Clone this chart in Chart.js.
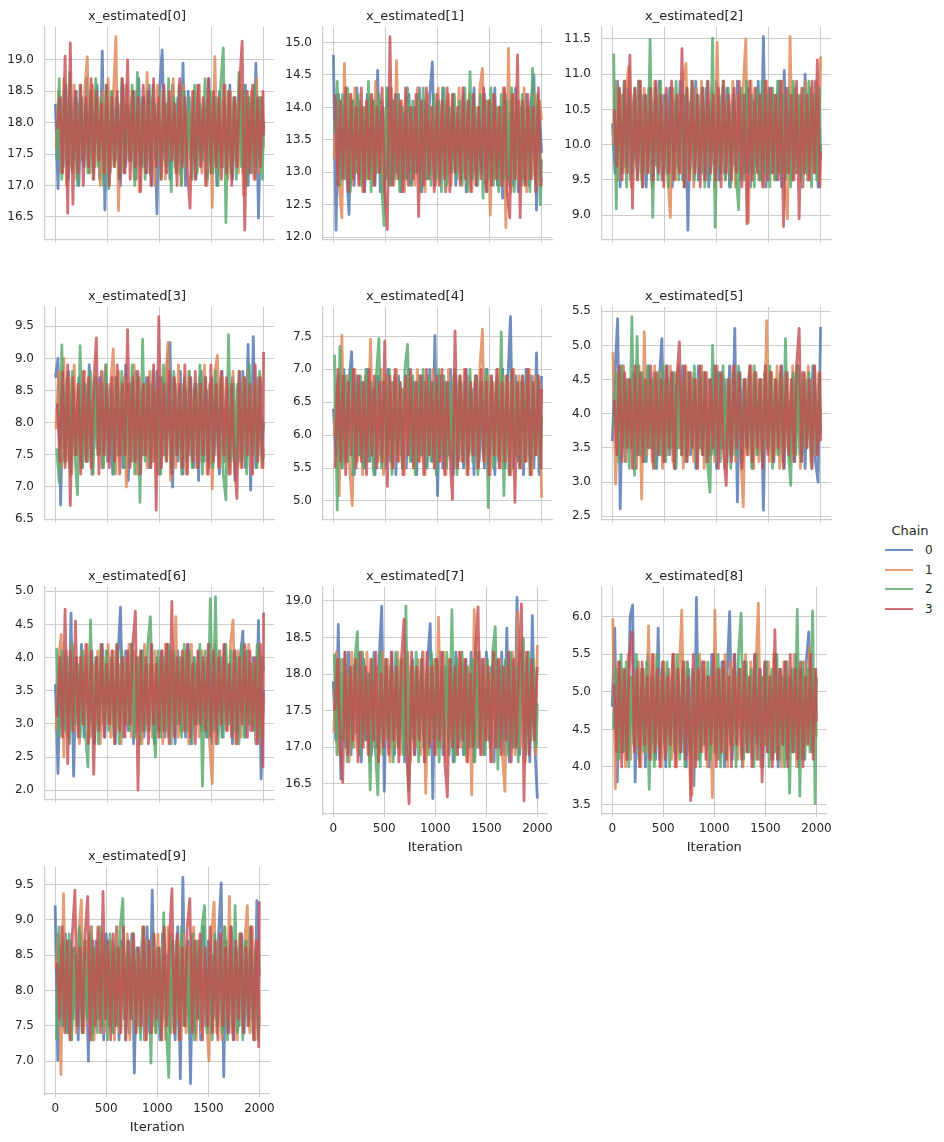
<!DOCTYPE html>
<html>
<head>
<meta charset="utf-8">
<script src="https://cdn.jsdelivr.net/npm/chart.js@4.4.1/dist/chart.umd.min.js"></script>
<style>
  body { margin: 0; background: #fff; width: 944px; height: 1142px; position: relative; overflow: hidden;
         font-family: 'DejaVu Sans', sans-serif; color: #262626; }
  canvas { position: absolute; }
  .leg-title { position: absolute; left: 880px; top: 523px; width: 60px; text-align: center; font-size: 13px; line-height: 16px; }
  .leg-line { position: absolute; left: 885px; width: 28px; height: 2px; }
  .leg-label { position: absolute; left: 925px; font-size: 12px; line-height: 16px; }
</style>
</head>
<body>
<script>
// sample positions (iteration) shared by every chain
const iterations = [
  0, 25, 50, 75, 100, 125, 150, 175, 200, 225,
  250, 275, 300, 325, 350, 375, 400, 425, 450, 475,
  500, 525, 550, 575, 600, 625, 650, 675, 700, 725,
  750, 775, 800, 825, 850, 875, 900, 925, 950, 975,
  1000, 1025, 1050, 1075, 1100, 1125, 1150, 1175, 1200, 1225,
  1250, 1275, 1300, 1325, 1350, 1375, 1400, 1425, 1450, 1475,
  1500, 1525, 1550, 1575, 1600, 1625, 1650, 1675, 1700, 1725,
  1750, 1775, 1800, 1825, 1850, 1875, 1900, 1925, 1950, 1975,
  1999];
// each chain was read a few iterations apart from the others
const chainOffsets = [0, 6, 12, 18];
const xTicks = [0, 500, 1000, 1500, 2000];
const chainLabels = ['0', '1', '2', '3'];
const panelTitles = ['x_estimated[0]', 'x_estimated[1]', 'x_estimated[2]', 'x_estimated[3]', 'x_estimated[4]',
  'x_estimated[5]', 'x_estimated[6]', 'x_estimated[7]', 'x_estimated[8]', 'x_estimated[9]'];
const yTicks = [
  [16.5, 17, 17.5, 18, 18.5, 19],
  [12, 12.5, 13, 13.5, 14, 14.5, 15],
  [9, 9.5, 10, 10.5, 11, 11.5],
  [6.5, 7, 7.5, 8, 8.5, 9, 9.5],
  [5, 5.5, 6, 6.5, 7, 7.5],
  [2.5, 3, 3.5, 4, 4.5, 5, 5.5],
  [2, 2.5, 3, 3.5, 4, 4.5, 5],
  [16.5, 17, 17.5, 18, 18.5, 19],
  [3.5, 4, 4.5, 5, 5.5, 6],
  [7, 7.5, 8, 8.5, 9, 9.5]
];

// one array per chain (0..3)
const trace0 = [
  [18.3, 16.95, 18.4, 17.3, 18.6, 17.1, 18.2, 17.4, 18.5, 17.0,
   18.4, 17.3, 18.7, 17.2, 18.3, 17.5, 18.6, 17.1, 19.14, 16.61,
   18.4, 17.2, 18.5, 17.4, 18.3, 17.0, 18.6, 17.3, 18.2, 17.4,
   18.5, 17.1, 18.7, 17.3, 18.4, 17.2, 18.6, 17.0, 18.3, 16.55,
   18.5, 19.16, 17.4, 18.3, 17.1, 18.6, 17.3, 18.4, 17.2, 18.95,
   17.0, 18.5, 17.4, 18.3, 17.1, 18.6, 17.3, 18.2, 17.5, 18.7,
   17.2, 18.4, 17.0, 18.5, 17.3, 18.3, 17.4, 18.6, 17.1, 18.4,
   17.3, 18.5, 17.2, 18.6, 17.0, 18.3, 17.4, 18.95, 16.48, 18.4,
   17.9],
  [17.6, 18.5, 17.2, 18.7, 17.0, 18.4, 17.3, 18.6, 17.1, 18.3,
   17.4, 18.5, 19.05, 17.2, 18.6, 17.3, 18.4, 17.0, 18.5, 17.2,
   18.7, 17.3, 18.4, 19.37, 16.6, 18.3, 17.2, 18.6, 17.4, 18.4,
   17.1, 18.5, 16.9, 18.3, 17.3, 18.8, 17.2, 18.4, 17.0, 18.6,
   17.3, 18.5, 17.1, 18.3, 17.4, 18.7, 17.2, 18.4, 17.0, 18.6,
   17.3, 18.2, 17.1, 18.5, 17.4, 18.6, 17.2, 18.3, 17.0, 18.5,
   16.65, 19.05, 17.2, 18.4, 17.3, 18.6, 17.1, 18.5, 17.4, 18.3,
   17.2, 18.6, 16.85, 18.4, 17.3, 18.5, 17.1, 18.7, 17.2, 18.4,
   17.6],
  [17.4, 18.7, 17.1, 18.5, 17.3, 18.8, 17.2, 18.4, 17.0, 18.6,
   17.4, 18.3, 17.2, 18.5, 17.1, 18.7, 17.3, 18.4, 17.0, 18.6,
   16.95, 18.5, 17.3, 18.4, 17.1, 18.7, 17.2, 18.3, 17.4, 18.6,
   17.0, 18.8, 17.3, 18.4, 17.1, 18.5, 17.2, 18.6, 17.4, 18.3,
   17.1, 18.5, 17.3, 18.7, 16.9, 18.4, 17.2, 18.6, 17.0, 18.5,
   17.3, 18.4, 17.1, 18.6, 17.2, 18.3, 17.4, 18.7, 17.1, 18.5,
   17.2, 18.4, 17.0, 18.6, 19.19, 16.41, 18.5, 17.2, 18.4, 17.1,
   18.8, 17.3, 18.5, 17.0, 18.4, 17.2, 18.6, 17.3, 18.4, 17.1,
   18.0],
  [17.9, 18.4, 17.2, 19.06, 16.56, 19.27, 16.7, 18.5, 17.2, 18.6,
   17.0, 18.4, 17.3, 18.7, 17.1, 18.5, 17.4, 18.3, 17.2, 18.6,
   17.0, 18.4, 17.3, 18.5, 17.1, 18.7, 17.2, 19.0, 17.1, 18.5,
   17.3, 18.4, 16.9, 18.6, 17.2, 18.5, 17.0, 18.7, 17.3, 18.4,
   17.1, 18.6, 17.2, 18.5, 17.4, 18.3, 17.0, 18.7, 17.3, 18.4,
   17.2, 16.64, 18.5, 17.1, 18.6, 17.3, 18.4, 17.0, 18.7, 17.2,
   18.5, 17.3, 18.4, 17.1, 18.6, 17.2, 18.5, 17.0, 18.4, 17.3,
   18.6, 19.30, 16.29, 18.5, 17.2, 18.6, 17.1, 18.4, 17.3, 18.5,
   17.8]
];
const trace1 = [
  [14.81, 12.11, 14.2, 12.9, 14.0, 13.1, 12.35, 14.1, 12.8, 14.3,
   12.9, 14.0, 12.7, 14.2, 13.0, 14.1, 12.8, 14.57, 12.7, 14.0,
   12.9, 14.3, 12.8, 14.1, 13.0, 14.2, 12.7, 13.9, 12.9, 14.2,
   12.8, 14.0, 13.0, 14.3, 12.7, 14.1, 12.9, 14.2, 14.7, 12.8,
   14.0, 12.9, 14.3, 12.7, 14.1, 13.0, 14.2, 12.8, 13.9, 12.9,
   14.2, 12.7, 14.1, 12.9, 14.3, 12.8, 14.0, 13.0, 14.2, 12.7,
   14.1, 12.9, 14.3, 12.8, 14.0, 12.6, 14.2, 12.9, 14.1, 12.8,
   14.3, 12.7, 14.0, 12.9, 14.2, 12.8, 14.1, 14.5, 12.42, 14.0,
   13.3],
  [13.2, 14.1, 12.8, 12.3, 14.68, 12.9, 14.2, 12.8, 14.3, 13.0,
   14.1, 12.7, 14.0, 12.9, 14.2, 12.8, 14.4, 13.0, 14.1, 12.7,
   14.0, 12.9, 14.3, 12.8, 14.72, 12.9, 14.1, 12.7, 14.2, 13.0,
   14.0, 12.8, 14.3, 12.9, 14.1, 12.7, 14.2, 13.0, 14.0, 12.8,
   14.3, 12.9, 14.1, 12.7, 14.2, 12.8, 14.0, 13.0, 14.3, 12.9,
   14.1, 12.8, 14.2, 12.7, 14.0, 12.9, 14.3, 14.6, 12.8, 14.1,
   12.34, 14.2, 12.9, 14.0, 12.8, 14.3, 12.15, 14.91, 12.7, 14.2,
   12.9, 14.1, 12.8, 14.3, 12.7, 14.0, 12.9, 14.2, 12.8, 14.1,
   13.8],
  [13.6, 14.4, 12.8, 14.2, 12.9, 14.3, 12.7, 14.1, 13.0, 14.2,
   12.8, 14.0, 12.9, 14.4, 12.7, 14.1, 13.0, 14.2, 12.8, 12.18,
   14.3, 12.8, 14.1, 12.9, 14.2, 12.7, 14.0, 12.9, 14.3, 12.8,
   14.1, 13.0, 14.2, 12.7, 14.3, 12.9, 14.0, 12.8, 14.2, 12.9,
   14.1, 12.7, 14.3, 12.8, 14.0, 13.0, 14.2, 12.9, 14.1, 12.8,
   14.3, 12.7, 14.55, 12.9, 14.0, 12.8, 14.2, 12.6, 14.1, 12.9,
   14.3, 12.8, 14.0, 12.7, 14.2, 12.9, 14.1, 12.8, 14.3, 12.7,
   14.0, 12.9, 14.2, 12.8, 14.1, 12.7, 14.6, 12.9, 14.2, 12.5,
   13.2],
  [14.2, 12.8, 14.1, 12.9, 14.3, 12.7, 14.2, 12.9, 14.0, 12.8,
   14.3, 12.7, 14.1, 12.9, 14.2, 12.8, 14.0, 13.0, 14.3, 12.7,
   12.12, 15.09, 12.8, 14.2, 12.9, 14.1, 12.7, 14.3, 12.8, 14.0,
   12.9, 14.2, 12.32, 14.1, 12.8, 14.3, 12.9, 14.0, 12.7, 14.2,
   12.8, 14.1, 12.9, 14.3, 12.7, 14.2, 13.0, 14.0, 12.8, 14.3,
   12.9, 14.1, 12.7, 14.2, 12.8, 14.0, 12.9, 14.3, 12.7, 14.1,
   12.8, 14.2, 12.9, 14.0, 12.8, 14.3, 12.7, 12.3, 14.2, 12.9,
   14.81, 12.3, 14.1, 12.8, 14.2, 12.9, 14.0, 12.7, 14.3, 12.8,
   12.9]
];
const trace2 = [
  [10.3, 9.6, 10.9, 9.4, 10.7, 9.7, 10.8, 9.5, 10.6, 9.8,
   10.9, 9.6, 10.7, 9.4, 10.8, 9.5, 10.6, 9.7, 10.9, 9.5,
   10.7, 9.6, 10.8, 9.4, 10.6, 9.7, 10.9, 9.5, 10.7, 8.79,
   10.6, 9.7, 10.9, 9.5, 10.7, 9.6, 10.8, 9.4, 10.6, 9.7,
   10.9, 9.5, 10.7, 9.6, 10.8, 9.4, 10.6, 9.7, 10.9, 9.5,
   10.7, 9.6, 10.8, 9.4, 10.6, 9.7, 10.9, 9.5, 11.53, 9.4,
   10.8, 9.6, 10.7, 9.5, 10.9, 9.4, 11.05, 9.6, 10.7, 9.5,
   10.8, 9.6, 10.6, 9.4, 11.0, 9.5, 10.8, 9.7, 10.9, 9.4,
   10.0],
  [10.0, 10.9, 9.5, 10.7, 9.6, 10.8, 11.1, 9.4, 10.7, 9.7,
   10.9, 9.5, 10.8, 9.6, 10.7, 9.4, 10.9, 9.7, 10.8, 9.5,
   10.6, 9.6, 8.97, 10.8, 9.5, 10.7, 9.6, 10.9, 11.15, 9.5,
   10.7, 9.4, 10.8, 9.6, 10.9, 9.5, 10.7, 9.7, 10.8, 9.4,
   11.45, 9.7, 10.8, 9.5, 10.6, 9.6, 10.9, 9.4, 10.7, 9.6,
   10.8, 11.5, 8.9, 10.9, 9.6, 10.8, 9.5, 10.7, 9.4, 10.9,
   9.6, 10.8, 9.5, 10.7, 9.6, 10.9, 9.4, 8.95, 11.53, 9.5,
   10.8, 9.6, 10.7, 9.4, 10.9, 9.5, 10.8, 9.6, 10.9, 9.5,
   11.25],
  [11.29, 9.09, 10.8, 9.6, 10.9, 9.4, 10.7, 9.6, 10.8, 9.5,
   10.9, 9.4, 10.7, 9.6, 11.49, 8.97, 10.8, 9.5, 10.9, 9.6,
   10.7, 9.4, 10.8, 9.6, 10.9, 9.5, 10.7, 9.4, 10.8, 9.6,
   10.9, 9.5, 10.7, 9.6, 10.8, 9.4, 10.9, 9.5, 11.51, 8.83,
   10.7, 9.6, 10.9, 9.5, 10.8, 9.4, 10.7, 9.6, 9.08, 10.8,
   9.5, 10.9, 9.6, 10.7, 9.4, 10.8, 9.5, 10.9, 9.6, 10.7,
   9.4, 10.8, 9.5, 10.9, 9.6, 10.7, 9.5, 10.8, 9.4, 10.9,
   9.6, 10.7, 9.5, 10.8, 9.6, 10.9, 9.4, 10.7, 9.5, 10.8,
   9.8],
  [10.5, 9.7, 10.8, 9.5, 10.9, 9.6, 11.27, 9.1, 10.8, 9.5,
   10.9, 9.4, 10.7, 9.6, 10.8, 9.5, 10.9, 9.6, 10.7, 9.4,
   10.8, 9.6, 10.9, 9.5, 10.7, 9.6, 11.36, 9.4, 10.8, 9.5,
   10.9, 9.6, 10.7, 9.4, 10.8, 9.5, 10.9, 9.6, 10.7, 9.5,
   10.8, 9.4, 10.9, 9.6, 10.7, 9.5, 10.8, 9.6, 10.9, 9.4,
   10.7, 8.88, 10.9, 9.5, 10.8, 9.6, 10.7, 9.4, 10.9, 9.5,
   10.8, 9.6, 10.7, 9.5, 10.9, 8.84, 10.8, 9.6, 10.7, 9.5,
   10.9, 8.95, 10.8, 9.6, 10.7, 9.5, 10.9, 9.6, 11.2, 9.4,
   9.9]
];
const trace3 = [
  [8.7, 9.0, 6.72, 8.6, 7.4, 8.8, 7.2, 8.5, 7.5, 8.7,
   7.3, 8.6, 7.4, 8.9, 7.2, 8.5, 7.6, 8.7, 7.3, 8.8,
   7.4, 8.6, 7.2, 8.7, 7.5, 8.5, 7.3, 8.9, 7.1, 8.6,
   7.4, 8.8, 7.2, 8.5, 7.5, 8.7, 7.3, 8.6, 7.4, 8.8,
   7.2, 8.7, 7.5, 8.9, 9.25, 7.0, 8.6, 7.4, 8.8, 7.2,
   8.5, 7.5, 8.7, 7.3, 8.6, 7.1, 8.8, 7.4, 8.5, 7.3,
   8.7, 7.5, 8.6, 7.2, 8.8, 7.4, 8.5, 7.3, 8.7, 7.1,
   8.6, 7.4, 8.8, 7.3, 9.22, 6.95, 9.34, 7.3, 8.7, 7.5,
   8.0],
  [7.9, 8.8, 7.3, 9.0, 7.4, 8.7, 7.2, 8.9, 7.5, 8.6,
   7.3, 8.8, 7.4, 8.5, 7.2, 8.7, 7.5, 8.6, 7.3, 8.9,
   7.4, 8.6, 9.15, 7.2, 8.8, 7.5, 8.7, 7.0, 8.6, 7.4,
   8.9, 7.2, 8.7, 7.5, 8.6, 7.3, 8.8, 7.4, 8.5, 7.2,
   8.7, 7.5, 8.6, 9.25, 7.1, 8.7, 7.3, 8.9, 7.4, 8.6,
   7.2, 8.8, 7.5, 8.5, 7.3, 8.7, 7.4, 8.9, 7.2, 8.6,
   6.97, 8.8, 9.05, 7.3, 8.7, 7.4, 8.6, 7.2, 8.8, 7.5,
   8.6, 7.3, 8.7, 7.4, 8.8, 7.2, 8.6, 7.5, 8.7, 7.3,
   7.6],
  [7.6, 7.07, 9.21, 7.4, 8.7, 7.3, 8.8, 7.5, 6.88, 9.2,
   7.3, 8.6, 7.4, 8.8, 7.2, 8.7, 7.5, 8.6, 7.3, 8.9,
   7.4, 8.5, 7.2, 8.7, 7.5, 8.8, 7.3, 8.6, 7.4, 8.9,
   7.2, 8.7, 6.76, 9.3, 7.4, 8.6, 7.3, 8.8, 7.5, 8.7,
   7.2, 8.9, 7.4, 8.6, 7.3, 8.8, 7.5, 8.5, 7.2, 8.7,
   7.4, 8.8, 7.3, 8.6, 7.5, 8.9, 7.2, 8.7, 7.4, 8.6,
   7.3, 8.8, 7.5, 8.7, 7.2, 6.80, 9.37, 7.4, 8.6, 7.3,
   8.8, 7.4, 8.7, 7.2, 8.9, 7.5, 8.6, 7.3, 8.8, 7.4,
   7.5],
  [8.3, 7.4, 8.8, 7.3, 8.9, 6.71, 8.7, 7.5, 8.6, 7.2,
   8.8, 7.4, 8.7, 7.3, 8.6, 9.32, 7.2, 8.8, 7.5, 8.6,
   7.3, 8.7, 7.4, 8.9, 7.2, 8.6, 7.5, 9.45, 7.3, 8.7,
   7.4, 8.8, 7.2, 8.6, 7.5, 8.7, 7.3, 8.9, 6.64, 9.65,
   7.3, 8.6, 7.4, 8.8, 7.2, 8.7, 7.5, 8.6, 7.3, 8.9,
   7.2, 8.7, 7.4, 8.8, 7.3, 8.6, 7.5, 8.7, 7.2, 8.9,
   7.4, 8.6, 7.3, 8.8, 7.5, 8.7, 7.2, 8.6, 7.4, 6.82,
   8.8, 7.3, 8.7, 7.5, 8.6, 7.2, 8.9, 7.4, 8.7, 7.3,
   9.1]
];
const trace4 = [
  [6.4, 5.7, 6.9, 5.5, 7.0, 5.6, 6.8, 7.27, 5.4, 6.9,
   5.7, 6.8, 5.5, 7.0, 5.6, 6.7, 5.4, 6.9, 5.7, 6.8,
   5.5, 7.0, 5.6, 6.8, 5.4, 6.9, 5.7, 6.7, 5.5, 7.0,
   5.6, 6.8, 5.4, 6.9, 5.7, 6.8, 5.5, 7.0, 5.6, 7.51,
   5.08, 6.9, 5.5, 6.8, 5.7, 7.0, 5.4, 6.9, 5.6, 6.8,
   5.5, 7.0, 5.7, 6.7, 5.4, 6.9, 5.6, 6.8, 5.5, 7.0,
   5.7, 6.8, 5.4, 6.9, 5.6, 7.0, 5.5, 6.8, 7.80, 5.5,
   6.9, 5.6, 6.8, 5.4, 7.0, 5.7, 6.9, 5.5, 7.25, 5.4,
   6.9],
  [6.0, 6.8, 5.08, 7.52, 5.6, 6.9, 5.5, 4.93, 7.0, 5.6,
   6.8, 5.4, 6.9, 5.7, 7.46, 5.5, 6.8, 5.6, 7.0, 5.4,
   6.9, 5.7, 6.8, 5.5, 7.0, 5.6, 6.7, 5.4, 6.9, 5.7,
   6.8, 5.5, 7.0, 5.6, 6.9, 5.4, 6.8, 5.7, 7.0, 5.5,
   6.9, 5.6, 6.8, 5.4, 7.0, 5.7, 6.9, 5.5, 6.8, 5.6,
   7.0, 5.4, 6.9, 5.7, 6.8, 5.5, 7.0, 7.61, 5.6, 6.9,
   5.4, 6.8, 5.7, 7.0, 5.5, 6.9, 5.6, 6.8, 5.4, 7.0,
   5.7, 6.9, 5.5, 6.8, 5.6, 7.0, 5.4, 6.9, 5.7, 6.8,
   5.05],
  [7.22, 4.86, 7.35, 5.5, 6.9, 5.6, 7.0, 5.4, 6.8, 5.7,
   6.9, 5.5, 7.0, 5.6, 6.8, 5.4, 6.9, 7.47, 5.5, 6.8,
   5.6, 7.0, 5.4, 6.9, 5.7, 6.8, 5.5, 7.0, 7.38, 5.6,
   6.9, 5.4, 6.8, 5.7, 7.0, 5.5, 6.9, 5.6, 6.8, 5.4,
   7.0, 5.7, 6.9, 5.5, 6.8, 5.6, 7.0, 5.4, 6.9, 5.7,
   6.8, 5.5, 7.0, 5.6, 6.9, 5.4, 6.8, 5.7, 7.0, 4.9,
   6.9, 5.5, 6.8, 5.6, 7.57, 5.08, 6.9, 5.4, 7.0, 5.7,
   6.8, 5.5, 6.9, 5.6, 7.0, 5.4, 6.8, 5.7, 6.9, 5.5,
   6.3],
  [5.5, 7.0, 5.6, 6.9, 5.4, 6.8, 5.7, 7.0, 5.5, 6.9,
   5.6, 6.8, 5.4, 7.0, 5.7, 6.9, 5.5, 6.8, 5.6, 7.43,
   5.22, 6.9, 5.5, 7.0, 5.6, 6.8, 5.4, 6.9, 5.7, 7.0,
   5.5, 6.8, 5.6, 6.9, 5.4, 7.0, 5.7, 6.8, 5.5, 6.9,
   5.6, 7.0, 5.4, 6.8, 5.7, 5.02, 7.58, 5.5, 6.9, 5.6,
   7.0, 5.4, 6.8, 5.7, 6.9, 5.5, 7.0, 5.6, 6.8, 5.4,
   6.9, 5.7, 7.0, 5.5, 6.8, 5.6, 6.9, 5.4, 7.0, 4.98,
   6.8, 5.5, 6.9, 5.6, 7.0, 5.4, 6.8, 5.7, 6.9, 5.5,
   6.7]
];
const trace5 = [
  [3.6, 4.6, 5.39, 2.61, 4.7, 3.3, 4.5, 3.5, 4.6, 3.2,
   4.7, 3.4, 4.5, 3.3, 4.7, 3.5, 4.6, 3.2, 4.5, 5.1,
   3.3, 4.7, 3.4, 4.6, 3.2, 4.5, 3.5, 4.7, 3.3, 4.6,
   3.4, 4.5, 3.2, 4.7, 3.5, 4.6, 3.3, 4.5, 3.4, 4.7,
   3.2, 4.6, 3.5, 4.5, 3.3, 4.7, 3.4, 5.25, 2.71, 4.6,
   3.3, 4.5, 3.5, 4.7, 3.2, 4.6, 3.4, 4.5, 2.59, 4.7,
   3.5, 4.6, 3.3, 4.5, 3.4, 4.7, 3.2, 4.6, 3.5, 4.5,
   3.3, 4.7, 3.4, 4.6, 3.2, 4.5, 3.5, 4.7, 3.3, 3.0,
   5.27],
  [4.9, 2.97, 4.6, 3.4, 4.7, 3.3, 4.5, 3.5, 4.6, 3.2,
   4.7, 2.75, 5.2, 3.4, 4.5, 3.3, 4.7, 3.5, 4.6, 3.2,
   4.5, 3.4, 4.7, 3.3, 4.6, 3.5, 4.5, 3.2, 4.7, 3.4,
   4.6, 3.3, 4.5, 3.5, 4.7, 3.2, 4.6, 3.4, 4.5, 3.3,
   4.7, 3.5, 4.6, 3.2, 4.5, 3.4, 4.7, 3.3, 4.6, 3.5,
   2.64, 4.5, 3.4, 4.7, 3.2, 4.6, 3.3, 4.5, 3.5, 5.36,
   3.3, 4.6, 3.4, 4.7, 3.2, 4.5, 3.5, 4.6, 3.3, 4.7,
   3.4, 4.5, 3.2, 4.6, 3.5, 4.7, 3.3, 4.5, 3.4, 4.6,
   3.9],
  [3.8, 4.6, 3.3, 4.7, 3.5, 4.5, 3.2, 5.42, 3.1, 5.13,
   3.4, 4.6, 3.3, 4.7, 3.5, 4.5, 3.2, 4.6, 3.4, 4.7,
   3.3, 4.5, 3.5, 4.6, 3.2, 4.7, 3.4, 4.5, 3.3, 4.6,
   3.5, 4.7, 3.2, 4.5, 3.4, 4.6, 3.3, 2.85, 5.0, 3.4,
   4.6, 3.3, 4.7, 3.5, 4.5, 3.2, 4.6, 3.4, 4.7, 3.3,
   4.5, 3.5, 4.6, 3.2, 4.7, 3.4, 4.5, 3.3, 4.6, 3.5,
   4.7, 3.2, 4.5, 3.4, 4.6, 3.3, 5.1, 3.5, 2.95, 4.6,
   3.4, 4.7, 3.3, 4.5, 3.5, 4.6, 3.2, 4.7, 3.4, 4.5,
   3.7],
  [4.2, 3.4, 4.7, 3.3, 4.6, 3.5, 4.5, 3.2, 4.7, 3.4,
   4.6, 3.3, 4.5, 3.5, 4.7, 3.2, 4.6, 3.4, 4.5, 3.3,
   4.7, 3.5, 4.6, 3.2, 4.5, 5.05, 3.4, 4.7, 3.3, 4.6,
   3.5, 4.5, 3.2, 4.7, 3.4, 4.6, 3.3, 4.5, 3.5, 4.7,
   3.2, 4.6, 3.4, 2.95, 4.5, 3.3, 4.7, 3.5, 4.6, 3.2,
   4.5, 3.4, 4.7, 3.3, 4.6, 3.5, 4.5, 3.2, 4.7, 3.4,
   4.6, 3.3, 4.5, 3.5, 4.7, 3.2, 4.6, 3.4, 4.5, 3.3,
   4.7, 5.25, 3.3, 4.6, 3.5, 4.5, 3.2, 4.7, 3.4, 4.6,
   3.6]
];
const trace6 = [
  [3.6, 2.25, 4.0, 2.9, 4.1, 2.8, 4.67, 2.21, 4.0, 2.9,
   4.2, 2.8, 3.9, 3.0, 4.1, 2.7, 4.0, 2.9, 4.2, 2.8,
   4.1, 3.0, 3.9, 2.7, 4.0, 4.76, 2.8, 4.1, 2.9, 4.2,
   2.7, 4.0, 3.0, 4.1, 2.8, 3.9, 2.9, 4.2, 2.7, 4.0,
   2.9, 4.1, 2.8, 4.2, 3.0, 3.9, 2.7, 4.1, 2.9, 4.0,
   2.8, 4.2, 2.7, 4.0, 3.0, 4.1, 2.9, 3.9, 2.8, 4.2,
   2.7, 4.0, 2.9, 4.1, 2.8, 4.2, 3.0, 3.9, 2.7, 4.1,
   2.9, 4.0, 4.4, 2.8, 4.1, 2.9, 4.0, 2.7, 4.56, 2.17,
   3.5],
  [2.9, 4.0, 4.35, 2.5, 4.1, 2.8, 4.2, 2.9, 4.0, 2.7,
   4.1, 3.0, 4.2, 2.8, 3.9, 2.9, 4.1, 2.7, 4.0, 3.0,
   4.2, 2.8, 4.1, 2.9, 3.9, 2.7, 4.0, 3.0, 4.2, 2.8,
   4.1, 2.9, 4.0, 2.7, 4.2, 3.0, 3.9, 2.8, 4.1, 2.9,
   4.0, 2.7, 4.2, 2.8, 4.1, 3.0, 4.62, 2.8, 4.0, 2.9,
   4.1, 2.7, 4.2, 3.0, 3.9, 2.8, 4.1, 2.9, 4.0, 2.7,
   2.1, 4.2, 2.8, 4.1, 3.0, 4.0, 2.9, 4.2, 4.57, 2.7,
   4.1, 2.8, 4.0, 3.0, 4.2, 2.9, 3.9, 2.7, 4.1, 2.8,
   3.4],
  [4.15, 2.8, 4.1, 2.9, 4.0, 2.7, 4.2, 3.0, 3.9, 2.8,
   4.1, 2.9, 2.35, 4.57, 2.8, 4.0, 2.7, 4.2, 3.0, 4.1,
   2.9, 4.0, 2.8, 4.2, 2.7, 4.1, 3.0, 3.9, 2.9, 4.2,
   2.8, 4.0, 2.7, 4.1, 2.9, 4.2, 4.62, 3.0, 2.5, 4.1,
   2.8, 4.0, 2.9, 4.2, 2.7, 4.1, 3.0, 4.0, 2.8, 4.2,
   2.9, 4.1, 2.7, 4.0, 3.0, 4.2, 2.06, 4.1, 2.8, 4.89,
   2.9, 4.92, 2.7, 4.0, 2.8, 4.2, 3.0, 4.1, 2.9, 4.0,
   2.7, 4.2, 2.8, 4.1, 3.0, 3.9, 2.9, 4.2, 2.8, 4.0,
   3.8],
  [3.1, 4.0, 2.8, 4.73, 2.4, 4.1, 2.9, 4.55, 2.8, 4.0,
   3.0, 4.2, 2.7, 4.1, 2.24, 4.0, 2.9, 4.2, 2.8, 3.9,
   3.0, 4.1, 2.7, 4.2, 2.9, 4.0, 2.8, 4.1, 3.0, 4.2,
   4.7, 2.0, 4.1, 2.9, 4.0, 2.7, 4.2, 3.0, 3.9, 2.8,
   4.1, 2.9, 4.2, 2.7, 4.85, 2.8, 4.0, 3.0, 4.1, 2.9,
   4.2, 2.8, 3.9, 2.7, 4.1, 3.0, 4.0, 2.9, 4.2, 2.8,
   4.1, 2.7, 4.0, 3.0, 4.2, 2.9, 3.9, 2.8, 4.1, 2.7,
   4.0, 3.0, 4.2, 2.8, 4.1, 2.9, 4.0, 2.7, 4.2, 2.35,
   4.68]
];
const trace7 = [
  [17.9, 17.1, 18.68, 16.57, 18.2, 17.0, 18.3, 16.9, 18.1, 17.2,
   18.3, 16.8, 18.2, 17.1, 18.0, 16.9, 18.3, 17.0, 18.2, 18.93,
   16.4, 18.1, 17.0, 18.3, 16.9, 18.2, 17.1, 18.0, 16.8, 18.3,
   17.0, 18.2, 16.9, 18.1, 17.2, 18.3, 16.8, 18.2, 18.69, 16.3,
   18.2, 17.0, 18.3, 16.9, 18.1, 17.1, 18.2, 16.8, 18.3, 17.0,
   18.1, 16.9, 18.2, 17.2, 18.3, 16.8, 18.0, 17.0, 18.2, 16.9,
   18.3, 17.1, 18.1, 16.8, 18.2, 17.0, 18.3, 16.9, 18.63, 16.8,
   18.2, 17.0, 19.05, 16.9, 18.3, 17.1, 18.2, 16.8, 18.8, 17.0,
   16.3],
  [17.2, 18.3, 16.9, 18.2, 17.1, 18.0, 16.8, 18.3, 17.0, 18.2,
   16.9, 18.1, 17.2, 18.3, 16.8, 18.2, 17.0, 18.1, 16.9, 18.3,
   17.1, 18.2, 16.8, 18.0, 17.0, 18.3, 16.9, 18.2, 17.1, 18.3,
   16.8, 18.1, 17.0, 18.2, 16.9, 18.3, 16.37, 18.1, 17.1, 18.2,
   16.9, 18.78, 17.0, 18.3, 16.8, 18.2, 17.1, 18.0, 16.9, 18.3,
   17.0, 18.2, 16.8, 18.1, 16.35, 18.88, 17.0, 18.3, 16.9, 18.2,
   17.1, 18.0, 16.8, 18.3, 17.0, 18.2, 16.9, 16.4, 18.1, 17.1,
   18.3, 16.9, 18.85, 17.0, 18.2, 16.8, 18.3, 17.1, 18.1, 16.9,
   18.4],
  [18.28, 16.9, 18.2, 17.1, 18.3, 16.8, 18.1, 17.0, 18.2, 18.58,
   16.9, 18.3, 17.1, 18.0, 16.42, 18.2, 17.0, 16.35, 18.3, 16.9,
   18.2, 17.1, 18.1, 16.8, 18.3, 17.0, 18.2, 16.9, 18.93, 16.42,
   18.1, 17.1, 18.3, 16.8, 18.2, 17.0, 18.0, 16.9, 18.3, 17.1,
   18.2, 16.8, 18.1, 17.0, 18.3, 16.9, 18.88, 16.8, 18.2, 17.1,
   18.3, 16.9, 18.1, 17.0, 18.2, 16.8, 18.3, 17.1, 18.0, 16.9,
   18.2, 17.0, 18.3, 18.65, 16.7, 18.1, 17.1, 18.2, 16.9, 18.3,
   17.0, 18.1, 16.8, 18.2, 18.49, 16.9, 18.3, 17.1, 18.2, 17.0,
   17.6],
  [17.5, 18.2, 17.0, 16.52, 18.3, 16.9, 18.1, 17.1, 18.2, 16.8,
   18.3, 17.0, 18.1, 16.9, 18.2, 17.1, 18.3, 16.8, 18.0, 17.0,
   18.2, 16.9, 18.3, 17.1, 18.1, 16.8, 18.2, 18.75, 17.0, 16.23,
   18.3, 16.9, 18.1, 17.1, 18.2, 16.8, 18.3, 17.0, 18.1, 16.9,
   18.2, 17.1, 18.3, 16.8, 16.32, 18.2, 17.0, 18.1, 16.9, 18.3,
   17.1, 18.2, 16.8, 18.0, 17.0, 18.3, 18.92, 16.9, 18.2, 17.1,
   18.1, 16.8, 18.3, 17.0, 18.2, 16.9, 18.1, 17.1, 18.3, 16.8,
   18.2, 17.0, 18.1, 18.96, 16.27, 18.3, 16.9, 18.2, 17.1, 18.0,
   18.1]
];
const trace8 = [
  [4.8, 5.85, 3.8, 5.4, 4.2, 5.3, 4.1, 6.0, 6.16, 3.8,
   5.4, 4.2, 5.3, 4.0, 5.5, 4.3, 5.2, 4.1, 5.85, 4.2,
   5.4, 4.0, 5.3, 4.3, 5.5, 4.1, 5.2, 4.2, 5.4, 4.0,
   5.3, 4.2, 3.75, 6.26, 4.1, 5.4, 4.3, 5.2, 4.0, 5.5,
   4.2, 5.3, 4.1, 5.4, 4.0, 5.2, 6.07, 4.1, 5.5, 4.3,
   5.3, 4.0, 5.4, 4.2, 5.2, 4.1, 5.5, 4.3, 5.3, 4.0,
   5.4, 4.2, 5.2, 4.1, 5.5, 4.0, 5.3, 4.3, 5.4, 4.1,
   5.2, 4.2, 5.5, 4.0, 5.3, 4.1, 5.4, 5.8, 4.2, 5.3,
   5.1],
  [5.98, 3.71, 5.4, 4.2, 5.3, 4.0, 5.5, 4.1, 5.2, 4.3,
   5.4, 4.0, 5.3, 4.2, 5.88, 4.1, 5.5, 4.3, 5.2, 4.0,
   5.4, 4.2, 5.3, 4.1, 5.5, 4.0, 5.2, 6.09, 4.2, 5.4,
   4.3, 3.62, 5.3, 4.1, 5.5, 4.2, 5.4, 4.0, 5.2, 3.59,
   6.09, 4.1, 5.3, 4.2, 5.5, 4.0, 5.4, 4.3, 5.2, 4.1,
   5.3, 4.0, 5.5, 4.2, 5.4, 4.1, 5.3, 6.18, 4.0, 5.2,
   4.3, 5.4, 4.1, 5.5, 4.2, 5.3, 4.0, 5.4, 4.1, 5.2,
   4.2, 5.5, 4.0, 5.3, 4.1, 5.4, 4.3, 5.6, 4.2, 5.3,
   4.4],
  [4.5, 5.3, 4.1, 5.5, 4.2, 5.4, 4.0, 5.2, 4.3, 5.5,
   4.1, 5.3, 4.2, 5.4, 3.70, 5.2, 4.0, 5.5, 4.1, 5.3,
   4.3, 5.4, 4.0, 5.2, 4.2, 5.5, 4.1, 5.3, 4.0, 5.4,
   4.2, 5.3, 4.1, 5.5, 4.0, 5.2, 4.3, 5.4, 4.1, 5.3,
   4.2, 5.5, 4.0, 5.4, 4.1, 5.2, 4.3, 5.3, 4.0, 5.5,
   6.05, 4.1, 5.4, 4.2, 5.3, 4.0, 5.5, 4.1, 5.2, 4.3,
   5.4, 4.0, 5.3, 4.2, 5.5, 4.1, 5.2, 4.0, 5.4, 3.65,
   5.3, 4.2, 6.1, 3.61, 5.4, 4.1, 5.3, 4.2, 6.08, 3.51,
   5.2],
  [5.1, 4.2, 5.4, 4.0, 5.3, 4.1, 5.5, 5.8, 4.2, 5.3,
   4.0, 5.4, 4.3, 5.2, 4.1, 5.5, 4.2, 5.3, 4.0, 5.4,
   4.1, 5.2, 4.3, 5.5, 4.0, 5.3, 4.2, 5.4, 4.1, 5.2,
   3.55, 5.5, 4.0, 5.3, 4.2, 5.4, 4.1, 5.2, 4.3, 5.5,
   4.0, 5.3, 4.2, 5.4, 4.1, 5.2, 4.0, 5.5, 4.3, 5.3,
   4.1, 5.4, 4.2, 5.2, 4.0, 5.5, 4.1, 5.3, 3.8, 5.4,
   4.2, 5.2, 4.0, 5.83, 4.1, 5.3, 4.3, 5.4, 4.0, 5.5,
   4.2, 5.3, 4.1, 5.4, 4.0, 5.2, 4.3, 5.5, 4.1, 5.3,
   4.6]
];
const trace9 = [
  [9.2, 7.01, 8.6, 7.5, 8.8, 7.4, 8.7, 7.6, 8.5, 7.3,
   8.8, 7.5, 8.6, 7.0, 8.9, 7.4, 8.7, 7.6, 8.5, 7.3,
   8.8, 7.5, 8.6, 7.4, 8.9, 7.3, 8.7, 7.6, 8.5, 7.4,
   8.8, 6.83, 8.6, 7.5, 8.7, 7.3, 8.9, 7.4, 9.42, 7.5,
   8.6, 7.3, 8.8, 7.6, 8.5, 7.4, 8.7, 7.3, 8.9, 6.75,
   9.6, 7.5, 8.7, 6.68, 8.8, 7.4, 8.6, 7.3, 8.9, 7.5,
   8.7, 7.4, 8.5, 7.6, 8.8, 9.52, 6.78, 8.7, 7.4, 8.9,
   7.3, 8.6, 7.5, 8.8, 7.4, 8.7, 7.6, 8.5, 7.3, 9.27,
   8.2],
  [8.3, 8.8, 6.81, 9.37, 7.5, 8.7, 7.3, 8.6, 7.4, 8.8,
   9.28, 7.4, 8.7, 7.5, 8.9, 7.3, 8.6, 7.6, 8.8, 7.4,
   8.5, 7.5, 8.7, 7.3, 8.9, 7.4, 8.6, 7.6, 8.8, 7.3,
   8.7, 7.5, 8.5, 7.4, 8.9, 7.3, 8.7, 7.6, 8.6, 7.4,
   8.8, 7.5, 8.7, 7.3, 8.9, 7.4, 8.5, 7.6, 8.7, 7.3,
   8.8, 7.4, 8.6, 7.5, 8.9, 7.3, 8.7, 7.4, 8.6, 7.6,
   7.0, 8.8, 9.25, 7.4, 8.7, 7.3, 8.9, 7.5, 9.33, 7.4,
   8.6, 7.3, 8.8, 7.5, 8.7, 9.2, 7.4, 8.9, 7.3, 8.7,
   7.6],
  [7.3, 8.9, 7.5, 8.7, 7.4, 8.8, 7.3, 8.6, 7.5, 8.9,
   7.4, 8.7, 7.6, 8.8, 7.3, 8.6, 7.4, 8.9, 7.5, 8.7,
   7.3, 8.8, 7.4, 8.6, 7.5, 8.9, 9.3, 7.3, 8.7, 7.6,
   8.8, 7.4, 8.6, 7.3, 8.9, 7.5, 8.7, 6.97, 8.8, 7.4,
   8.6, 7.3, 9.1, 7.5, 6.77, 8.8, 7.4, 8.7, 7.3, 8.9,
   7.5, 8.6, 7.4, 8.8, 7.3, 8.7, 7.6, 8.9, 9.2, 7.4,
   8.6, 7.3, 8.8, 7.5, 8.7, 7.4, 8.9, 7.3, 8.6, 7.5,
   9.2, 7.4, 8.8, 7.3, 8.7, 7.5, 8.9, 7.4, 8.6, 7.3,
   7.6],
  [8.4, 7.6, 8.9, 7.4, 8.7, 7.3, 8.8, 9.42, 7.5, 8.6,
   7.4, 8.8, 9.33, 7.3, 8.7, 7.5, 8.9, 7.4, 9.4, 7.6,
   8.7, 7.3, 8.8, 7.5, 8.6, 7.4, 8.9, 7.3, 8.7, 7.6,
   8.8, 7.4, 8.6, 7.5, 8.9, 7.3, 8.7, 7.4, 8.8, 7.6,
   8.6, 7.3, 8.9, 7.5, 8.7, 9.44, 7.4, 8.8, 7.3, 8.6,
   7.5, 8.9, 9.3, 7.4, 8.7, 7.6, 8.8, 7.3, 8.6, 7.5,
   8.9, 7.4, 8.7, 7.3, 8.8, 7.5, 8.6, 7.4, 8.9, 7.3,
   8.7, 7.6, 8.8, 7.4, 8.6, 7.5, 8.9, 7.3, 8.7, 7.2,
   9.26]
];

const traces = [trace0, trace1, trace2, trace3, trace4, trace5, trace6, trace7, trace8, trace9];

// seaborn "deep" palette at alpha 0.8
const chainColors = ['rgba(76,114,176,0.8)', 'rgba(221,132,82,0.8)', 'rgba(85,168,104,0.8)', 'rgba(196,78,82,0.8)'];

Chart.defaults.font.family = "'DejaVu Sans', sans-serif";
Chart.defaults.color = '#262626';

const colLeft = [0, 278, 557];
const rowTop = [0, 280, 560, 840];
const bottomPanels = [7, 8, 9];
const gridColor = '#cccccc';

// matplotlib-like 5% margins
function margins(lo, hi) {
  const pad = (hi - lo) * 0.05;
  return [lo - pad, hi + pad];
}

const lastIdx = iterations.length - 1;
const [xMin, xMax] = margins(iterations[0], iterations[lastIdx]);

traces.forEach((chains, i) => {
  const isBottom = bottomPanels.includes(i);
  const canvas = document.createElement('canvas');
  canvas.width = 280;
  canvas.height = isBottom ? 300 : 258;
  canvas.style.left = colLeft[i % 3] + 'px';
  canvas.style.top = rowTop[Math.floor(i / 3)] + 'px';
  document.body.appendChild(canvas);

  const all = chains.flat();
  const [yMin, yMax] = margins(Math.min(...all), Math.max(...all));

  new Chart(canvas, {
    type: 'line',
    data: {
      datasets: chains.map((vals, k) => ({
        label: chainLabels[k],
        data: vals.map((v, j) => ({
          x: j === lastIdx ? iterations[j] : iterations[j] + chainOffsets[k],
          y: v
        })),
        borderColor: chainColors[k],
        borderWidth: 2.8,
        borderJoinStyle: 'round',
        pointRadius: 0,
        tension: 0,
        order: chains.length - 1 - k // last chain drawn on top
      }))
    },
    options: {
      responsive: false,
      animation: false,
      devicePixelRatio: 1,
      layout: { padding: { left: 0, right: 6, top: 0, bottom: 0 } },
      plugins: {
        legend: { display: false },
        tooltip: { enabled: false },
        title: {
          display: true,
          text: panelTitles[i],
          color: '#262626',
          font: { size: 13, weight: 'normal' },
          padding: { top: 9, bottom: 2.4 }
        }
      },
      scales: {
        x: {
          type: 'linear',
          min: xMin,
          max: xMax,
          afterBuildTicks: (s) => { s.ticks = xTicks.map(v => ({ value: v })); },
          afterFit: (s) => { s.height = isBottom ? 46 : 4; },
          grid: { color: gridColor, lineWidth: 1, drawTicks: true, tickLength: 3, tickColor: gridColor },
          border: { display: true, color: gridColor, width: 1.25 },
          ticks: {
            display: isBottom, padding: 5, maxRotation: 0, autoSkip: false,
            color: '#262626', font: { size: 12 },
            callback: (v) => String(v)
          },
          title: {
            display: isBottom, text: 'Iteration', color: '#262626',
            font: { size: 13 }, padding: { top: 0, bottom: 5 }
          }
        },
        y: {
          type: 'linear',
          min: yMin,
          max: yMax,
          afterBuildTicks: (s) => { s.ticks = yTicks[i].map(v => ({ value: v })); },
          afterFit: (s) => { s.width = 45; },
          grid: { color: gridColor, lineWidth: 1, drawTicks: false },
          border: { display: true, color: gridColor, width: 1.25 },
          ticks: {
            padding: 11, autoSkip: false, color: '#262626', font: { size: 12 },
            callback: (v) => v.toFixed(1)
          }
        }
      }
    }
  });
});

// legend on the right
const legTitle = document.createElement('div');
legTitle.className = 'leg-title';
legTitle.textContent = 'Chain';
document.body.appendChild(legTitle);
chainLabels.forEach((lab, k) => {
  const y = 550 + 19.5 * k;
  const line = document.createElement('div');
  line.className = 'leg-line';
  line.style.top = (y - 1) + 'px';
  line.style.background = chainColors[k];
  document.body.appendChild(line);
  const txt = document.createElement('div');
  txt.className = 'leg-label';
  txt.style.top = (y - 8) + 'px';
  txt.textContent = lab;
  document.body.appendChild(txt);
});
</script>
</body>
</html>
